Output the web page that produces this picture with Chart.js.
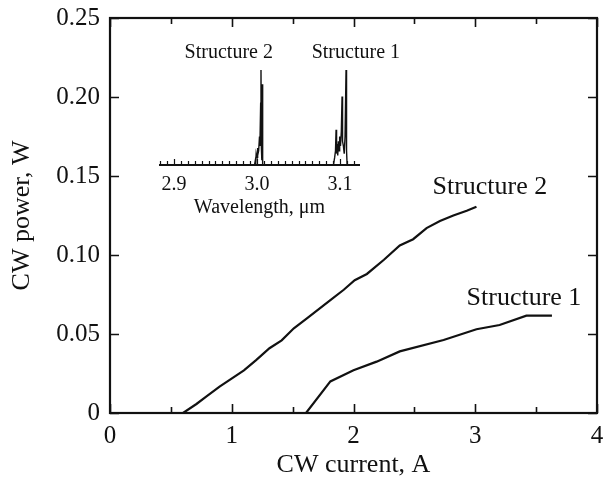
<!DOCTYPE html>
<html>
<head>
<meta charset="utf-8">
<script src="https://cdn.jsdelivr.net/npm/chart.js@4.4.0/dist/chart.umd.min.js"></script>
<style>
  html, body { margin: 0; padding: 0; background: #fff; }
  #wrap { position: relative; width: 603px; height: 481px; }
  #main { position: absolute; left: 0; top: 0; }
  #inset { position: absolute; left: 140px; top: 30px; }
</style>
</head>
<body>
<div id="wrap">
  <canvas id="main" width="603" height="481"></canvas>
  <canvas id="inset" width="290" height="195"></canvas>
</div>
<script>
/* main plot: CW power vs CW current */
var current2 = [0, 0.60, 0.71, 0.79, 0.90, 1.10, 1.20, 1.31, 1.41, 1.51, 1.62, 1.81, 1.92, 2.01, 2.11, 2.25, 2.38, 2.49, 2.60, 2.71, 2.82, 2.93, 3.01];
var power2 = [0, 0, 0.0057, 0.0103, 0.0167, 0.027, 0.0335, 0.041, 0.046, 0.0536, 0.060, 0.0715, 0.078, 0.084, 0.088, 0.097, 0.106, 0.110, 0.117, 0.1215, 0.125, 0.128, 0.1305];
var current1 = [0, 1.61, 1.81, 2.00, 2.19, 2.38, 2.74, 3.01, 3.20, 3.42, 3.63];
var power1 = [0, 0, 0.020, 0.027, 0.0325, 0.039, 0.0462, 0.053, 0.0557, 0.0616, 0.0616];
var xTicks = [0, 1, 2, 3, 4];
var xMinorTicks = [0.5, 1.5, 2.5, 3.5];
var yTicks = [0, 0.05, 0.10, 0.15, 0.20, 0.25];
var yTickLabels = ['0', '0.05', '0.10', '0.15', '0.20', '0.25'];
var curveLabels = [{ text: 'Structure 2', x: 3.12, y: 0.143 }, { text: 'Structure 1', x: 3.40, y: 0.0728 }];

/* inset: lasing spectra */
var wl2 = [2.997, 2.998, 2.9985, 2.999, 3.000, 3.0005, 3.001, 3.002, 3.003, 3.0035, 3.0044, 3.0048, 3.0052, 3.0058, 3.0063, 3.0068];
var int2 = [0, 0.05, 0.03, 0.12, 0.08, 0.18, 0.10, 0.15, 0.30, 0.20, 0.65, 1.0, 0.20, 0.05, 0.85, 0];
var wl1 = [3.092, 3.0935, 3.0945, 3.0952, 3.0958, 3.0965, 3.0972, 3.098, 3.0988, 3.0995, 3.1005, 3.1015, 3.1024, 3.103, 3.104, 3.105, 3.106, 3.1072, 3.1078, 3.1085];
var int1 = [0, 0.08, 0.15, 0.37, 0.12, 0.22, 0.10, 0.25, 0.15, 0.30, 0.20, 0.35, 0.72, 0.25, 0.20, 0.12, 0.30, 1.0, 0.15, 0];
var wlTicks = [2.9, 3.0, 3.1];
var wlTickLabels = ['2.9', '3.0', '3.1'];
var specLabels = [{ text: 'Structure 2', x: 2.966, y: 1.18 }, { text: 'Structure 1', x: 3.119, y: 1.18 }];

var SERIF = '"Liberation Serif", "DejaVu Serif", serif';

function pts(xs, ys) { return xs.map(function (x, i) { return { x: x, y: ys[i] }; }); }
function noPad(s) { s.paddingLeft = 0; s.paddingRight = 0; s.paddingTop = 0; s.paddingBottom = 0; }

/* frame + inward ticks + curve labels for the main plot */
var mainDeco = {
  id: 'mainDeco',
  afterDraw: function (chart) {
    var ctx = chart.ctx, a = chart.chartArea, sx = chart.scales.x, sy = chart.scales.y;
    ctx.save();
    ctx.strokeStyle = '#111';
    ctx.lineWidth = 1.6;
    ctx.beginPath();
    xTicks.forEach(function (v) {
      var p = Math.round(sx.getPixelForValue(v)) + 0.5;
      ctx.moveTo(p, a.bottom); ctx.lineTo(p, a.bottom - 9);
      ctx.moveTo(p, a.top); ctx.lineTo(p, a.top + 9);
    });
    xMinorTicks.forEach(function (v) {
      var p = Math.round(sx.getPixelForValue(v)) + 0.5;
      ctx.moveTo(p, a.bottom); ctx.lineTo(p, a.bottom - 6);
      ctx.moveTo(p, a.top); ctx.lineTo(p, a.top + 6);
    });
    yTicks.forEach(function (v) {
      var p = Math.round(sy.getPixelForValue(v)) + 0.5;
      ctx.moveTo(a.left, p); ctx.lineTo(a.left + 9, p);
      ctx.moveTo(a.right, p); ctx.lineTo(a.right - 9, p);
    });
    ctx.stroke();
    ctx.lineWidth = 2.2;
    ctx.strokeRect(a.left, a.top, a.right - a.left, a.bottom - a.top);
    ctx.fillStyle = '#111';
    ctx.font = '26px ' + SERIF;
    ctx.textAlign = 'center';
    ctx.textBaseline = 'middle';
    curveLabels.forEach(function (l) {
      ctx.fillText(l.text, sx.getPixelForValue(l.x), sy.getPixelForValue(l.y));
    });
    ctx.restore();
  }
};

new Chart(document.getElementById('main'), {
  type: 'line',
  data: {
    datasets: [
      { label: 'Structure 2', data: pts(current2, power2) },
      { label: 'Structure 1', data: pts(current1, power1) }
    ]
  },
  options: {
    responsive: false,
    animation: false,
    parsing: false,
    layout: { padding: { top: 18, right: 6, left: 0, bottom: 0 } },
    elements: {
      line: { borderColor: '#111', borderWidth: 2.2, tension: 0, fill: false },
      point: { radius: 0 }
    },
    plugins: { legend: { display: false }, tooltip: { enabled: false } },
    scales: {
      x: {
        type: 'linear', min: 0, max: 4,
        afterBuildTicks: function (s) { s.ticks = xTicks.map(function (v) { return { value: v }; }); },
        afterFit: function (s) { s.height = 68; noPad(s); },
        grid: { display: false, drawTicks: false },
        border: { display: false },
        ticks: { color: '#111', padding: 8, font: { family: SERIF, size: 25 }, callback: function (v) { return String(v); } },
        title: { display: true, text: 'CW current, A', color: '#111', padding: { top: 0, bottom: 0 }, font: { family: SERIF, size: 26 } }
      },
      y: {
        type: 'linear', min: 0, max: 0.25,
        afterBuildTicks: function (s) { s.ticks = yTicks.map(function (v) { return { value: v }; }); },
        afterFit: function (s) { s.width = 110; noPad(s); },
        grid: { display: false, drawTicks: false },
        border: { display: false },
        ticks: { color: '#111', padding: 10, font: { family: SERIF, size: 25 },
          callback: function (v, i) { return yTickLabels[i]; } },
        title: { display: true, text: 'CW power, W', color: '#111', padding: { top: 7, bottom: 0 }, font: { family: SERIF, size: 26 } }
      }
    }
  },
  plugins: [mainDeco]
});

/* inset axis line, small upward ticks and peak labels */
var insetDeco = {
  id: 'insetDeco',
  afterDraw: function (chart) {
    var ctx = chart.ctx, a = chart.chartArea, sx = chart.scales.x, sy = chart.scales.y;
    ctx.save();
    ctx.strokeStyle = '#111';
    ctx.lineWidth = 1.2;
    ctx.beginPath();
    var step = 0.1 / 12;
    for (var k = -2; k <= 26; k++) {
      var v = 2.9 + k * step;
      var p = Math.round(sx.getPixelForValue(v)) + 0.5;
      if (p < a.left + 1 || p > a.right - 1) { continue; }
      var len = (k % 12 === 0) ? 6 : 4;
      ctx.moveTo(p, a.bottom); ctx.lineTo(p, a.bottom - len);
    }
    ctx.stroke();
    ctx.lineWidth = 2.2;
    ctx.beginPath();
    ctx.moveTo(a.left, a.bottom); ctx.lineTo(a.right, a.bottom);
    ctx.stroke();
    ctx.fillStyle = '#111';
    ctx.font = '20px ' + SERIF;
    ctx.textAlign = 'center';
    ctx.textBaseline = 'middle';
    specLabels.forEach(function (l) {
      ctx.fillText(l.text, sx.getPixelForValue(l.x), sy.getPixelForValue(l.y));
    });
    ctx.restore();
  }
};

new Chart(document.getElementById('inset'), {
  type: 'line',
  data: {
    datasets: [
      { label: 'Structure 2', data: pts(wl2, int2) },
      { label: 'Structure 1', data: pts(wl1, int1) }
    ]
  },
  options: {
    responsive: false,
    animation: false,
    parsing: false,
    layout: { padding: { top: 40, right: 70, left: 19, bottom: 0 } },
    elements: {
      line: { borderColor: '#111', borderWidth: 1.4, tension: 0, fill: false },
      point: { radius: 0 }
    },
    plugins: { legend: { display: false }, tooltip: { enabled: false } },
    scales: {
      x: {
        type: 'linear', min: 2.882, max: 3.124,
        afterBuildTicks: function (s) { s.ticks = wlTicks.map(function (v) { return { value: v }; }); },
        afterFit: function (s) { s.height = 60; noPad(s); },
        grid: { display: false, drawTicks: false },
        border: { display: false },
        ticks: { color: '#111', padding: 8, font: { family: SERIF, size: 20 },
          callback: function (v, i) { return wlTickLabels[i]; } },
        title: { display: true, text: 'Wavelength, μm', color: '#111', padding: { top: 0, bottom: 5 }, font: { family: SERIF, size: 20 } }
      },
      y: { type: 'linear', min: 0, max: 1, display: false }
    }
  },
  plugins: [insetDeco]
});
</script>
</body>
</html>
